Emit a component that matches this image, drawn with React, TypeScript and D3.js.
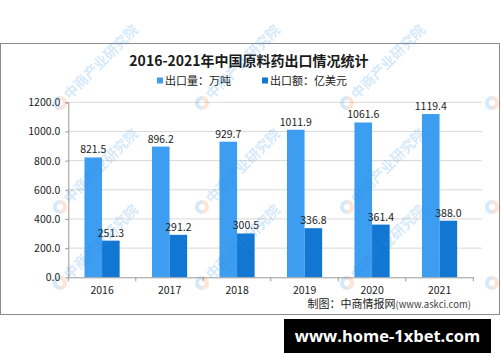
import React, { useEffect, useRef } from 'react';
import * as d3 from 'd3';

const years = ['2016', '2017', '2018', '2019', '2020', '2021'];
const volume = [821.5, 896.2, 929.7, 1011.9, 1061.6, 1119.4]; // 出口量：万吨
const amount = [251.3, 291.2, 300.5, 336.8, 361.4, 388.0]; // 出口额：亿美元
const yTicks = [0, 200, 400, 600, 800, 1000, 1200];
const seriesNames = ['出口量：万吨', '出口额：亿美元'];
const colors = ['#3d9df0', '#1277d2'];

const watermarkX = [60, 202, 347];
const watermarkY = [103, 207, 283];

const App = () => {
  const svgRef = useRef<SVGSVGElement>(null);

  useEffect(() => {
    const svg = d3.select(svgRef.current);
    svg.selectAll('*').remove();

    const W = 500;
    const H = 362;
    const margin = { top: 102.3, left: 68.3, right: 26.7, bottom: 84.7 };
    const width = W - margin.left - margin.right;
    const height = H - margin.top - margin.bottom;
    const font = '"Noto Sans CJK SC", "DejaVu Sans", sans-serif';

    svg.attr('width', W).attr('height', H).style('display', 'block');

    // frame
    svg
      .append('rect')
      .attr('x', 0.5)
      .attr('y', 43.5)
      .attr('width', 499)
      .attr('height', 271)
      .attr('fill', '#fff')
      .attr('stroke', '#8c8c8c');

    // title
    svg
      .append('text')
      .attr('x', 249)
      .attr('y', 66)
      .attr('text-anchor', 'middle')
      .attr('font-family', font)
      .attr('font-weight', 'bold')
      .attr('font-size', 14)
      .attr('fill', '#1a1a1a')
      .text('2016-2021年中国原料药出口情况统计');

    // legend
    const legendX = [157, 262];
    seriesNames.forEach((name, i) => {
      svg
        .append('rect')
        .attr('x', legendX[i])
        .attr('y', 77.5)
        .attr('width', 6)
        .attr('height', 6)
        .attr('fill', colors[i]);
      svg
        .append('text')
        .attr('x', legendX[i] + 8)
        .attr('y', 85)
        .attr('font-family', font)
        .attr('font-size', 11)
        .attr('fill', '#222')
        .text(name);
    });

    const g = svg.append('g').attr('transform', `translate(${margin.left},${margin.top})`);

    const x = d3.scaleBand().domain(years).range([0, width]).paddingInner(0).paddingOuter(0);
    const x1 = d3.scaleBand().domain(['0', '1']).range([0, 35.2]);
    const y = d3.scaleLinear().domain([0, 1200]).range([height, 0]);

    // grid lines
    g.selectAll('.grid')
      .data(yTicks.filter((t) => t > 0))
      .enter()
      .append('line')
      .attr('x1', 0)
      .attr('x2', width + 8.5)
      .attr('y1', (d) => y(d))
      .attr('y2', (d) => y(d))
      .attr('stroke', '#d9d9d9')
      .attr('stroke-width', 1);

    // bars
    const groups = g
      .selectAll('.year')
      .data(years)
      .enter()
      .append('g')
      .attr('transform', (d) => `translate(${(x(d) as number) + x.bandwidth() / 2 - 17.6},0)`);

    [volume, amount].forEach((vals, si) => {
      groups
        .append('rect')
        .attr('x', x1(String(si)) as number)
        .attr('y', (_, i) => y(vals[i]))
        .attr('width', x1.bandwidth())
        .attr('height', (_, i) => height - y(vals[i]))
        .attr('fill', colors[si]);
      groups
        .append('text')
        .attr('x', (x1(String(si)) as number) + x1.bandwidth() / 2)
        .attr('y', (_, i) => y(vals[i]) - 4)
        .attr('text-anchor', 'middle')
        .attr('font-family', font)
        .attr('font-size', 10.5)
        .attr('fill', '#222')
        .text((_, i) => vals[i].toFixed(1));
    });

    // y axis
    const yAxis = g
      .append('g')
      .call(
        d3
          .axisLeft(y)
          .tickValues(yTicks)
          .tickSize(3)
          .tickPadding(5)
          .tickFormat((d) => (d as number).toFixed(1))
      );
    yAxis.select('.domain').attr('stroke', '#999').attr('d', `M-3,0.5H0.5V${height}`);
    yAxis.selectAll('.tick line').attr('stroke', '#999');
    yAxis
      .selectAll('.tick text')
      .attr('font-family', font)
      .attr('font-size', 10.5)
      .attr('fill', '#222');

    // x axis
    const xAxis = g
      .append('g')
      .attr('transform', `translate(0,${height})`)
      .call(d3.axisBottom(x).tickSize(0).tickPadding(9));
    xAxis.select('.domain').attr('stroke', '#999');
    xAxis
      .selectAll('.tick text')
      .attr('font-family', font)
      .attr('font-size', 10.5)
      .attr('fill', '#222');
    xAxis
      .selectAll('.sep')
      .data(d3.range(years.length + 1))
      .enter()
      .append('line')
      .attr('x1', (d) => d * x.step())
      .attr('x2', (d) => d * x.step())
      .attr('y1', 0)
      .attr('y2', 4)
      .attr('stroke', '#999');

    // watermarks
    const wm = svg.append('g').attr('opacity', 0.2);
    const logo = (sel: any) => {
      sel.append('path')
        .attr('d', d3.arc()({ innerRadius: 3, outerRadius: 7, startAngle: Math.PI, endAngle: Math.PI * 2 }) as string)
        .attr('fill', '#2f8fe8');
      sel.append('path')
        .attr('d', d3.arc()({ innerRadius: 3, outerRadius: 7, startAngle: 0, endAngle: Math.PI }) as string)
        .attr('fill', '#f07a3a');
    };
    watermarkY.forEach((wy) => {
      watermarkX.forEach((wx) => {
        const m = wm.append('g').attr('transform', `translate(${wx},${wy})`);
        logo(m);
        m.append('text')
          .attr('x', 9)
          .attr('y', 5)
          .attr('transform', 'rotate(-45)')
          .attr('font-family', font)
          .attr('font-weight', 'bold')
          .attr('font-size', 14)
          .attr('fill', '#2f8fe8')
          .text('中商产业研究院');
      });
      logo(wm.append('g').attr('transform', `translate(492,${wy})`));
    });

    // source
    svg
      .append('text')
      .attr('x', 471)
      .attr('y', 308)
      .attr('text-anchor', 'end')
      .attr('font-family', font)
      .attr('font-size', 11)
      .attr('fill', '#222')
      .text('制图：中商情报网')
      .append('tspan')
      .attr('font-size', 9.5)
      .attr('fill', '#444')
      .text('(www.askci.com)');

    // banner
    svg
      .append('rect')
      .attr('x', 284)
      .attr('y', 319)
      .attr('width', 207)
      .attr('height', 34)
      .attr('fill', '#000');
    svg
      .append('text')
      .attr('x', 387.5)
      .attr('y', 342)
      .attr('text-anchor', 'middle')
      .attr('font-family', '"Open Sans", "DejaVu Sans", sans-serif')
      .attr('font-weight', 'bold')
      .attr('font-size', 16.5)
      .attr('fill', '#fff')
      .text('www.home-1xbet.com');
  }, []);

  return (
    <div style={{ position: 'fixed', left: 0, top: 0, width: 500, height: 362, background: '#fff' }}>
      <svg ref={svgRef}></svg>
    </div>
  );
};

export default App;
